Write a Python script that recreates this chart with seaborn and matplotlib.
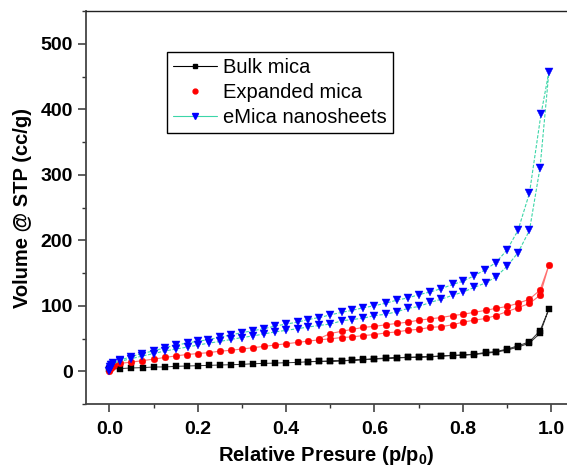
import numpy as np
import pandas as pd
import seaborn as sns
import matplotlib
matplotlib.use("Agg")
import matplotlib.pyplot as plt
from matplotlib.lines import Line2D
from matplotlib.ticker import MultipleLocator

# ---------------- data ----------------
# Bulk mica: adsorption then desorption
bulk_p_ads = [0.0, 0.024, 0.048, 0.075, 0.1, 0.125, 0.151, 0.175, 0.2, 0.226, 0.25, 0.275,
              0.3, 0.326, 0.35, 0.376, 0.4, 0.426, 0.45, 0.475, 0.5, 0.526, 0.55, 0.575,
              0.6, 0.626, 0.651, 0.676, 0.701, 0.726, 0.751, 0.777, 0.801, 0.826, 0.852,
              0.875, 0.901, 0.926, 0.951, 0.975, 0.995]
bulk_v_ads = [3.5, 4.0, 5.0, 5.5, 6.5, 6.6, 7.5, 8.0, 8.5, 9.0, 9.5, 10.0,
              10.5, 11.5, 12.0, 12.5, 13.0, 13.5, 14.5, 15.0, 15.3, 15.8, 16.6, 17.6,
              18.5, 19.5, 20.3, 21.0, 21.4, 22.0, 23.0, 24.0, 24.5, 25.5, 27.5,
              29.0, 32.5, 37.0, 43.0, 58.0, 95.0]
bulk_p_des = [0.975, 0.951, 0.926, 0.901, 0.875, 0.852, 0.826, 0.801, 0.777, 0.751, 0.726,
              0.701, 0.676, 0.651, 0.626, 0.6, 0.575, 0.55, 0.526, 0.5, 0.475, 0.45]
bulk_v_des = [62.0, 45.0, 39.0, 34.0, 30.0, 28.8, 26.0, 25.0, 24.3, 23.4, 22.5,
              21.8, 21.3, 20.8, 20.2, 19.2, 18.0, 17.0, 16.2, 15.6, 15.0, 14.7]

# Expanded mica
exp_p_ads = [0.0, 0.002, 0.005, 0.01, 0.024, 0.048, 0.073, 0.1, 0.125, 0.151, 0.175, 0.2,
             0.226, 0.25, 0.275, 0.3, 0.326, 0.35, 0.375, 0.4, 0.426, 0.45, 0.475, 0.5,
             0.526, 0.55, 0.575, 0.6, 0.626, 0.651, 0.676, 0.701, 0.726, 0.751, 0.777,
             0.801, 0.826, 0.852, 0.875, 0.9, 0.925, 0.951, 0.975, 0.995]
exp_v_ads = [0.0, 4.0, 7.0, 9.0, 12.0, 13.8, 16.0, 18.5, 21.0, 23.5, 25.5, 27.0,
             28.5, 30.6, 32.0, 34.0, 36.0, 38.0, 40.0, 42.0, 44.0, 46.0, 48.0, 49.5,
             51.5, 52.5, 54.5, 56.0, 58.6, 60.0, 62.7, 64.0, 67.0, 68.0, 71.0,
             75.0, 78.0, 80.6, 85.0, 91.0, 97.0, 103.5, 116.0, 162.0]
exp_p_des = [0.975, 0.951, 0.926, 0.901, 0.875, 0.852, 0.826, 0.801, 0.777, 0.751, 0.726,
             0.701, 0.676, 0.651, 0.626, 0.6, 0.575, 0.55, 0.526, 0.5, 0.475]
exp_v_des = [124.0, 110.0, 104.0, 99.0, 96.0, 93.0, 90.0, 87.0, 85.0, 82.0, 80.0,
             78.0, 75.0, 73.0, 71.0, 68.5, 67.0, 64.0, 61.0, 57.6, 50.0]

# eMica nanosheets
emi_p_ads = [0.0, 0.001, 0.002, 0.004, 0.008, 0.024, 0.048, 0.073, 0.1, 0.126, 0.151, 0.177,
             0.2, 0.226, 0.25, 0.275, 0.3, 0.326, 0.35, 0.375, 0.4, 0.426, 0.45, 0.475,
             0.5, 0.526, 0.55, 0.575, 0.6, 0.626, 0.651, 0.676, 0.701, 0.726, 0.751,
             0.777, 0.801, 0.826, 0.852, 0.875, 0.9, 0.925, 0.951, 0.975, 0.995]
emi_v_ads = [0.0, 3.0, 6.0, 9.0, 12.0, 15.0, 19.0, 23.0, 27.0, 31.0, 34.0, 37.0,
             40.0, 43.0, 45.5, 48.5, 51.5, 54.0, 57.0, 60.0, 62.5, 65.0, 67.5, 70.0,
             72.0, 77.0, 79.0, 81.0, 85.0, 87.0, 91.0, 96.0, 99.0, 105.0, 110.0,
             116.0, 121.0, 128.0, 135.0, 144.0, 160.0, 181.0, 215.0, 311.0, 457.0]
emi_p_des = [0.977, 0.951, 0.925, 0.9, 0.875, 0.851, 0.826, 0.801, 0.777, 0.751, 0.726,
             0.701, 0.676, 0.651, 0.626, 0.6, 0.575, 0.55, 0.526, 0.5, 0.475, 0.45,
             0.426, 0.4, 0.375, 0.35, 0.326, 0.3, 0.275, 0.25, 0.224, 0.2, 0.177,
             0.151, 0.126, 0.1, 0.073, 0.048, 0.024, 0.005]
emi_v_des = [392.0, 272.0, 215.0, 185.0, 166.0, 155.0, 146.0, 137.6, 132.5, 126.0, 121.0,
             117.0, 112.0, 108.6, 104.0, 100.0, 97.0, 93.0, 90.0, 86.0, 82.0, 79.0,
             75.0, 72.0, 69.0, 65.0, 62.0, 59.0, 55.5, 52.0, 48.0, 46.0, 43.0,
             40.0, 36.0, 31.0, 27.0, 22.0, 17.0, 10.0]

labels = ["Bulk mica", "Expanded mica", "eMica nanosheets"]

x_ticks = [0.0, 0.2, 0.4, 0.6, 0.8, 1.0]
y_ticks = [0, 100, 200, 300, 400, 500]

# ---------------- style ----------------
sns.set_theme(style="white")
plt.rcParams['font.family'] = ['Liberation Sans', 'DejaVu Sans']
plt.rcParams['mathtext.fontset'] = 'custom'
plt.rcParams['mathtext.rm'] = 'Liberation Sans'
plt.rcParams['mathtext.bf'] = 'Liberation Sans:bold'
plt.rcParams['text.color'] = 'black'
plt.rcParams['axes.labelcolor'] = 'black'
plt.rcParams['xtick.color'] = 'black'
plt.rcParams['ytick.color'] = 'black'

fig = plt.figure(figsize=(5.67, 4.70), dpi=100)
ax = fig.add_axes([86 / 567, 66 / 470, 1 - 86 / 567, (404 - 11) / 470])

def loop(pa, va, pd_, vd):
    return pd.DataFrame({"p": list(pa) + list(pd_), "v": list(va) + list(vd)})

d_bulk = loop(bulk_p_ads, bulk_v_ads, bulk_p_des, bulk_v_des)
d_exp = loop(exp_p_ads, exp_v_ads, exp_p_des, exp_v_des)
d_emi = loop(emi_p_ads, emi_v_ads, emi_p_des, emi_v_des)

sns.lineplot(data=d_bulk, x="p", y="v", sort=False, estimator=None, ax=ax,
             color="#333333", linewidth=0.7, marker="s", markersize=4.5,
             markerfacecolor="black", markeredgecolor="black", markeredgewidth=0.3)
sns.lineplot(data=d_exp, x="p", y="v", sort=False, estimator=None, ax=ax,
             color="#ff7070", linewidth=0.8, marker="o", markersize=4.8,
             markerfacecolor="#ff0000", markeredgecolor="#ff0000", markeredgewidth=0.3)
sns.lineplot(data=d_emi, x="p", y="v", sort=False, estimator=None, ax=ax,
             color="#3cd6a8", linewidth=0.8, linestyle=(0, (3, 1.5)), marker="v",
             markersize=5.6, markerfacecolor="#0000ff", markeredgecolor="#0000ff",
             markeredgewidth=0.3)

ax.set_xlim(-0.053, 1.036)
ax.set_ylim(-50, 550)
ax.set_xticks(x_ticks)
ax.set_yticks(y_ticks)
ax.set_xticklabels([f"{t:.1f}" for t in x_ticks])
ax.set_yticklabels([str(t) for t in y_ticks])
ax.xaxis.set_minor_locator(MultipleLocator(0.1))
ax.yaxis.set_minor_locator(MultipleLocator(50))
ax.tick_params(axis="both", which="major", direction="out", length=5.5, width=1.1,
               color="#333333", labelcolor="black", labelsize=14, bottom=True, left=True)
ax.tick_params(axis="both", which="minor", direction="out", length=3, width=1.0,
               color="#333333", bottom=True, left=True)
ax.tick_params(axis="x", which="major", pad=7)
ax.tick_params(axis="y", which="major", pad=4)
for lab in ax.get_xticklabels() + ax.get_yticklabels():
    lab.set_fontweight("bold")

for side in ["left", "bottom"]:
    ax.spines[side].set_color("#444444")
    ax.spines[side].set_linewidth(1.3)
ax.spines["top"].set_color("#222222")
ax.spines["top"].set_linewidth(1.0)
ax.spines["right"].set_visible(False)

ax.set_xlabel(r"Relative Presure (p/p$_\mathbf{0}$)", fontsize=14.5, fontweight="bold",
              labelpad=4, color="black")
ax.set_ylabel("Volume @ STP (cc/g)", fontsize=14.5, fontweight="bold", labelpad=6,
              color="black")

handles = [
    Line2D([], [], color="black", linewidth=0.8, marker="s", markersize=3,
           markerfacecolor="black", markeredgecolor="black"),
    Line2D([], [], color="red", linestyle="none", marker="o", markersize=3.5,
           markerfacecolor="red", markeredgecolor="red"),
    Line2D([], [], color="#3cd6a8", linewidth=0.8, marker="v", markersize=4,
           markerfacecolor="blue", markeredgecolor="blue"),
]
leg = ax.legend(handles, labels, loc="upper left", bbox_to_anchor=(0.168, 0.896),
                borderaxespad=0, fontsize=14.5, frameon=True, fancybox=False,
                framealpha=1, edgecolor="black", handlelength=2.2, handletextpad=0.3,
                labelspacing=0.3, borderpad=0.3)
leg.get_frame().set_linewidth(1.0)
for t in leg.get_texts():
    t.set_color("black")

fig.savefig("out.png", dpi=100)
